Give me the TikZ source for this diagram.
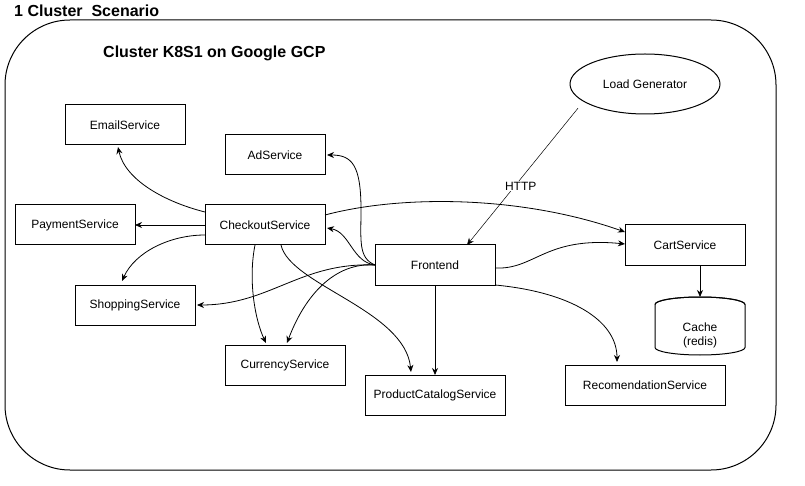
\documentclass[tikz,border=0pt]{standalone}
\usepackage{fontspec}
\setmainfont{Liberation Sans}
\usetikzlibrary{arrows.meta,shapes.geometric}
\tikzset{
  box/.style={draw, line width=1pt, rectangle, inner sep=0pt, outer sep=0pt, minimum height=40pt, font=\fontsize{12}{14}\selectfont},
  conn/.style={line width=0.8pt, -{Stealth[length=7pt,width=6pt]}},
  thinconn/.style={line width=0.5pt, -{Stealth[length=7pt,width=6pt]}},
  ttl/.style={font=\fontsize{16}{18}\selectfont\bfseries, inner sep=0pt, anchor=west}
}
\begin{document}
\begin{tikzpicture}[x=1pt,y=-1pt]
\useasboundingbox (0,0) rectangle (805,486);
% outer container
\draw[line width=1pt, rounded corners=65pt] (5,20) rectangle (776,470);
\node[ttl] (title) at (14,11) {1 Cluster\ \ Scenario};
\node[ttl] (ctitle) at (103,53) {Cluster K8S1 on Google GCP};
% nodes
\node[box, minimum width=120pt] (email) at (125,125) {EmailService};
\node[box, minimum width=100pt] (ad) at (275,155) {AdService};
\node[box, minimum width=120pt] (pay) at (75,225) {PaymentService};
\node[box, minimum width=120pt] (chk) at (265,225) {CheckoutService};
\node[box, minimum width=120pt] (shop) at (135,305) {ShoppingService};
\node[box, minimum width=120pt] (cur) at (285,365) {CurrencyService};
\node[box, minimum width=140pt] (pc) at (435,395) {ProductCatalogService};
\node[box, minimum width=120pt] (fe) at (435,265) {Frontend};
\node[box, minimum width=120pt] (cart) at (685,245) {CartService};
\node[box, minimum width=160pt] (rec) at (645,385) {RecomendationService};
\node[draw, line width=1pt, ellipse, minimum width=150pt, minimum height=60pt, inner sep=0pt, outer sep=0pt, font=\fontsize{12}{14}\selectfont] (lg) at (645,84) {Load Generator};
% cache cylinder
\node[inner sep=0pt, outer sep=0pt, minimum width=90pt, minimum height=58pt,
  label={[font=\fontsize{12}{14}\selectfont, align=center, yshift=-9pt]center:Cache\\(redis)}] (cache) at (700,326) {};
\draw[line width=1pt] (cache.north west) ++(0,7.5) -- ++(0,43)
  arc[start angle=180, end angle=360, x radius=45pt, y radius=7.5pt] -- ++(0,-43)
  arc[start angle=0, end angle=180, x radius=45pt, y radius=7.5pt] -- cycle;
\draw[line width=1pt] (cache.north west) ++(0,7.5)
  arc[start angle=180, end angle=360, x radius=45pt, y radius=-7.5pt];
% connectors
\draw[conn] ([yshift=13pt]chk.west) .. controls (165,202) and (125,180) .. ([xshift=-7pt,yshift=-2pt]email.south);
\draw[conn] (chk.west) -- (pay.east);
\draw[conn] ([yshift=-10pt]chk.west) .. controls (170,235) and (135,252) .. ([xshift=-13pt,yshift=4pt]shop.north);
\draw[conn] ([yshift=10pt]chk.east) .. controls (400,195) and (520,195) .. ([yshift=13pt]cart.west);
\draw[conn] ([yshift=-3pt]fe.east) .. controls (535,270) and (545,236) .. ([yshift=1pt]cart.west);
\draw[thinconn] ([xshift=-14pt,yshift=-3pt]lg.south west) -- node[pos=0.57, fill=white, inner sep=1pt, xshift=6pt, font=\fontsize{12}{14}\selectfont] (http) {HTTP} ([xshift=32pt]fe.north);
\draw[conn] (fe.west) .. controls (358,258) and (361,240) .. (361,210) .. controls (361,165) and (352,155) .. ([xshift=2pt]ad.east);
\draw[conn] (fe.west) .. controls (352,262) and (350,232) .. ([xshift=2pt,yshift=-3pt]chk.east);
\draw[conn] (fe.west) .. controls (300,262) and (270,305) .. ([xshift=2pt]shop.east);
\draw[conn] (fe.west) .. controls (335,262) and (305,295) .. ([xshift=2pt,yshift=2pt]cur.north);
\draw[conn] ([xshift=-10pt]chk.south) .. controls (248,280) and (255,320) .. ([xshift=-19pt,yshift=2pt]cur.north);
\draw[conn] ([xshift=16pt]chk.south) .. controls (290,285) and (405,310) .. ([xshift=-24pt,yshift=3pt]pc.north);
\draw[conn] (fe.south) -- (pc.north);
\draw[conn] (fe.south east) .. controls (570,292) and (617,320) .. ([xshift=-28pt,yshift=3pt]rec.north);
\draw[conn] (cache.north |- cart.south) -- (cache.north);
\end{tikzpicture}
\end{document}
